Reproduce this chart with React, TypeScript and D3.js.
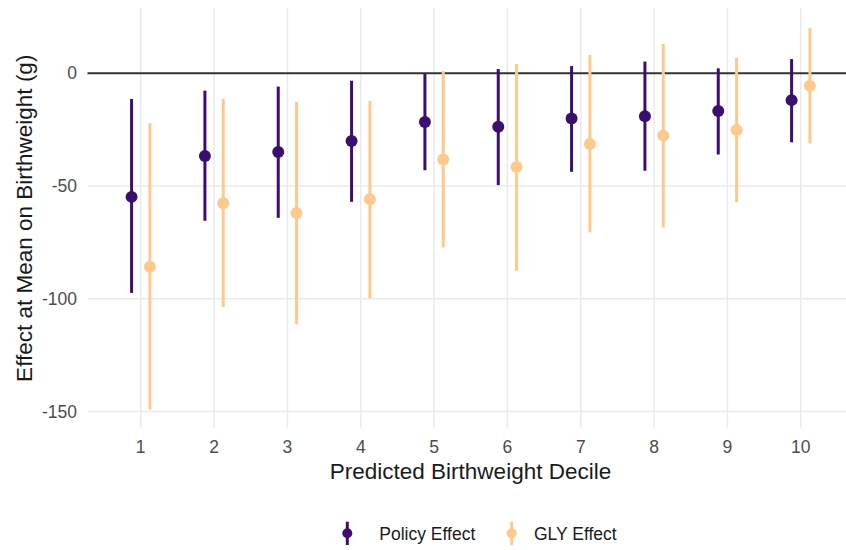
import React from "react";
import * as d3 from "d3";

// Predicted birthweight deciles and the two sets of estimates (grams)
const deciles = [1, 2, 3, 4, 5, 6, 7, 8, 9, 10];

const policyEst = [-54.8, -36.7, -34.9, -30.0, -21.6, -23.7, -20.0, -19.0, -16.7, -11.9];
const policyLow = [-97.4, -65.4, -64.1, -57.0, -43.0, -49.6, -43.7, -43.2, -36.0, -30.6];
const policyHigh = [-11.4, -7.7, -5.9, -3.3, -0.3, 1.9, 3.2, 5.2, 2.2, 6.3];

const glyEst = [-85.8, -57.6, -61.9, -55.8, -38.2, -41.5, -31.4, -27.7, -25.2, -5.5];
const glyLow = [-149.1, -103.6, -111.3, -99.9, -77.2, -87.6, -70.6, -68.4, -57.1, -31.1];
const glyHigh = [-22.2, -11.3, -12.6, -12.3, 1.0, 4.1, 8.1, 13.0, 6.9, 20.0];

const yTicks = [0, -50, -100, -150];

const seriesNames = ["Policy Effect", "GLY Effect"];
const seriesColors = ["#3b0f6f", "#fec98d"];

const W = 846;
const H = 550;
const FONT = "'Liberation Sans', Arial, Helvetica, sans-serif";

export default function App() {
  const panel = { left: 87.5, right: 854, top: 8, bottom: 428.5 };

  const x = d3.scaleLinear().domain([0.274, 10.726]).range([panel.left, panel.right]);
  const y = d3.scaleLinear().domain([-157.5, 28.95]).range([panel.bottom, panel.top]);

  const dodge = 0.125;

  const series = [
    { name: seriesNames[0], color: seriesColors[0], est: policyEst, lo: policyLow, hi: policyHigh, off: -dodge },
    { name: seriesNames[1], color: seriesColors[1], est: glyEst, lo: glyLow, hi: glyHigh, off: dodge },
  ];

  const gridColor = "#ebebeb";

  return (
    <svg
      width={W}
      height={H}
      style={{ position: "absolute", left: 0, top: 0, background: "#fff" }}
      fontFamily={FONT}
    >
      <rect width={W} height={H} fill="#fff" />
      {/* grid */}
      {yTicks.map((t) => (
        <line key={"gy" + t} x1={panel.left} x2={W} y1={y(t)} y2={y(t)} stroke={gridColor} strokeWidth={1.5} />
      ))}
      {deciles.map((d) => (
        <line key={"gx" + d} x1={x(d)} x2={x(d)} y1={panel.top} y2={panel.bottom} stroke={gridColor} strokeWidth={1.5} />
      ))}
      {/* reference line at zero */}
      <line x1={panel.left} x2={W} y1={y(0)} y2={y(0)} stroke="#333333" strokeWidth={2} />

      {/* intervals and point estimates */}
      {series.map((s) =>
        deciles.map((d, i) => (
          <g key={s.name + d}>
            <line
              x1={x(d + s.off)}
              x2={x(d + s.off)}
              y1={y(s.lo[i])}
              y2={y(s.hi[i])}
              stroke={s.color}
              strokeWidth={3}
            />
            <circle cx={x(d + s.off)} cy={y(s.est[i])} r={6} fill={s.color} />
          </g>
        ))
      )}

      {/* y tick labels */}
      {yTicks.map((t) => (
        <text key={"ty" + t} x={77} y={y(t) + 6} textAnchor="end" fontSize={17.5} fill="#4d4d4d">
          {t}
        </text>
      ))}
      {/* x tick labels */}
      {deciles.map((d) => (
        <text key={"tx" + d} x={x(d)} y={453} textAnchor="middle" fontSize={17.5} fill="#4d4d4d">
          {d}
        </text>
      ))}

      {/* axis titles */}
      <text x={470.5} y={478.5} textAnchor="middle" fontSize={22.5} fill="#1a1a1a">
        Predicted Birthweight Decile
      </text>
      <text
        transform={`translate(31.5, ${(panel.top + panel.bottom) / 2}) rotate(-90)`}
        textAnchor="middle"
        fontSize={22.5}
        fill="#1a1a1a"
      >
        Effect at Mean on Birthweight (g)
      </text>

      {/* legend */}
      {series.map((s, i) => {
        const kx = i === 0 ? 347.3 : 511.7;
        const tx = i === 0 ? 379.3 : 534;
        return (
          <g key={"lg" + s.name}>
            <line x1={kx} x2={kx} y1={521.7} y2={545} stroke={s.color} strokeWidth={3} />
            <circle cx={kx} cy={533.3} r={5} fill={s.color} />
            <text x={tx} y={540} fontSize={17.5} fill="#1a1a1a">
              {s.name}
            </text>
          </g>
        );
      })}
    </svg>
  );
}
